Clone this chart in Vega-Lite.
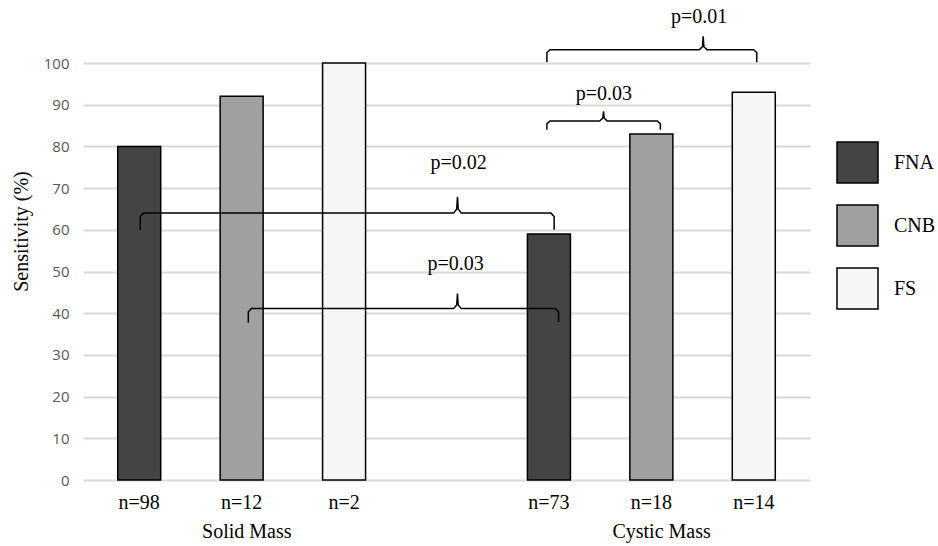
{
  "$schema": "https://vega.github.io/schema/vega-lite/v6.json",
  "width": 727,
  "height": 417,
  "autosize": "none",
  "padding": {"left": 83, "top": 63, "right": 128, "bottom": 66},
  "background": "white",
  "config": {"view": {"stroke": null}},
  "datasets": {
    "bars": [
      {"group": "Solid Mass", "method": "FNA", "slot": 0, "sensitivity": 80, "n": "n=98"},
      {"group": "Solid Mass", "method": "CNB", "slot": 1, "sensitivity": 92, "n": "n=12"},
      {"group": "Solid Mass", "method": "FS", "slot": 2, "sensitivity": 100, "n": "n=2"},
      {"group": "Cystic Mass", "method": "FNA", "slot": 4, "sensitivity": 59, "n": "n=73"},
      {"group": "Cystic Mass", "method": "CNB", "slot": 5, "sensitivity": 83, "n": "n=18"},
      {"group": "Cystic Mass", "method": "FS", "slot": 6, "sensitivity": 93, "n": "n=14"}
    ],
    "groups": [
      {"group": "Solid Mass", "slot": 1.05},
      {"group": "Cystic Mass", "slot": 5.1}
    ],
    "brackets": [
      {"b": "a", "i": 0, "x": 0.01, "y": 60},
      {"b": "a", "i": 1, "x": 0.01, "y": 63.2},
      {"b": "a", "i": 2, "x": 0.04, "y": 64},
      {"b": "a", "i": 3, "x": 3.07, "y": 64},
      {"b": "a", "i": 4, "x": 3.1, "y": 65},
      {"b": "a", "i": 5, "x": 3.107, "y": 67.9},
      {"b": "a", "i": 6, "x": 3.114, "y": 65},
      {"b": "a", "i": 7, "x": 3.144, "y": 64},
      {"b": "a", "i": 8, "x": 4.02, "y": 64},
      {"b": "a", "i": 9, "x": 4.051, "y": 63.2},
      {"b": "a", "i": 10, "x": 4.051, "y": 60},
      {"b": "b", "i": 0, "x": 1.065, "y": 37.7},
      {"b": "b", "i": 1, "x": 1.065, "y": 40.3},
      {"b": "b", "i": 2, "x": 1.095, "y": 41.1},
      {"b": "b", "i": 3, "x": 3.07, "y": 41.1},
      {"b": "b", "i": 4, "x": 3.1, "y": 42},
      {"b": "b", "i": 5, "x": 3.107, "y": 44.7},
      {"b": "b", "i": 6, "x": 3.114, "y": 42},
      {"b": "b", "i": 7, "x": 3.144, "y": 41.1},
      {"b": "b", "i": 8, "x": 4.064, "y": 41.1},
      {"b": "b", "i": 9, "x": 4.094, "y": 40.3},
      {"b": "b", "i": 10, "x": 4.094, "y": 37.9},
      {"b": "c", "i": 0, "x": 3.98, "y": 84},
      {"b": "c", "i": 1, "x": 3.98, "y": 85.4},
      {"b": "c", "i": 2, "x": 4.01, "y": 86.1},
      {"b": "c", "i": 3, "x": 4.496, "y": 86.1},
      {"b": "c", "i": 4, "x": 4.526, "y": 86.8},
      {"b": "c", "i": 5, "x": 4.533, "y": 88.4},
      {"b": "c", "i": 6, "x": 4.54, "y": 86.8},
      {"b": "c", "i": 7, "x": 4.57, "y": 86.1},
      {"b": "c", "i": 8, "x": 5.058, "y": 86.1},
      {"b": "c", "i": 9, "x": 5.088, "y": 85.4},
      {"b": "c", "i": 10, "x": 5.088, "y": 84},
      {"b": "d", "i": 0, "x": 3.98, "y": 100.2},
      {"b": "d", "i": 1, "x": 3.98, "y": 102.5},
      {"b": "d", "i": 2, "x": 4.01, "y": 103.2},
      {"b": "d", "i": 3, "x": 5.469, "y": 103.2},
      {"b": "d", "i": 4, "x": 5.499, "y": 103.9},
      {"b": "d", "i": 5, "x": 5.506, "y": 106.4},
      {"b": "d", "i": 6, "x": 5.513, "y": 103.9},
      {"b": "d", "i": 7, "x": 5.543, "y": 103.2},
      {"b": "d", "i": 8, "x": 5.999, "y": 103.2},
      {"b": "d", "i": 9, "x": 6.029, "y": 102.5},
      {"b": "d", "i": 10, "x": 6.029, "y": 100.2}
    ],
    "pvalues": [
      {"label": "p=0.02", "x": 3.119, "y": 74.7},
      {"label": "p=0.03", "x": 3.09, "y": 50.3},
      {"label": "p=0.03", "x": 4.536, "y": 91.2},
      {"label": "p=0.01", "x": 5.467, "y": 109.6}
    ]
  },
  "layer": [
    {
      "data": {"name": "bars"},
      "mark": {"type": "bar", "width": 43, "stroke": "black", "strokeWidth": 1.5},
      "encoding": {
        "x": {"field": "slot", "type": "quantitative", "scale": {"domain": [-0.5, 6.5], "nice": false, "zero": false}, "axis": null},
        "y": {
          "field": "sensitivity", "type": "quantitative",
          "scale": {"domain": [0, 100], "nice": false},
          "axis": {
            "values": [0, 10, 20, 30, 40, 50, 60, 70, 80, 90, 100],
            "domain": false, "ticks": false,
            "grid": true, "gridColor": "#d9d9d9", "gridWidth": 2,
            "labelFont": "Open Sans", "labelFontSize": 15, "labelColor": "#595959", "labelPadding": 14,
            "title": "Sensitivity (%)", "titleFont": "Liberation Serif", "titleFontSize": 20, "titleFontWeight": "normal", "titleColor": "black",
            "titleX": -62, "titleY": 168, "titleAngle": -90, "titleAlign": "center", "titleBaseline": "middle"
          }
        },
        "fill": {
          "field": "method", "type": "nominal",
          "scale": {"domain": ["FNA", "CNB", "FS"], "range": ["#444444", "#a0a0a0", "#f6f6f6"]},
          "legend": {
            "title": null, "orient": "none", "legendX": 753, "legendY": 78, "padding": 0,
            "symbolType": "square", "symbolSize": 1681, "symbolStrokeColor": "black", "symbolStrokeWidth": 1.5, "symbolOpacity": 1,
            "labelFont": "Liberation Serif", "labelFontSize": 20, "labelColor": "black", "labelOffset": 15, "rowPadding": 16
          }
        }
      }
    },
    {
      "data": {"name": "brackets"},
      "mark": {"type": "line", "color": "black", "strokeWidth": 1.5},
      "encoding": {
        "x": {"field": "x", "type": "quantitative"},
        "y": {"field": "y", "type": "quantitative"},
        "detail": {"field": "b", "type": "nominal"},
        "order": {"field": "i", "type": "quantitative"}
      }
    },
    {
      "data": {"name": "pvalues"},
      "mark": {"type": "text", "font": "Liberation Serif", "fontSize": 20, "color": "black", "align": "center", "baseline": "alphabetic"},
      "encoding": {
        "x": {"field": "x", "type": "quantitative"},
        "y": {"field": "y", "type": "quantitative"},
        "text": {"field": "label", "type": "nominal"}
      }
    },
    {
      "data": {"name": "bars"},
      "mark": {"type": "text", "font": "Liberation Serif", "fontSize": 20, "color": "black", "align": "center", "baseline": "middle", "dy": 23},
      "encoding": {
        "x": {"field": "slot", "type": "quantitative"},
        "y": {"datum": 0},
        "text": {"field": "n", "type": "nominal"}
      }
    },
    {
      "data": {"name": "groups"},
      "mark": {"type": "text", "font": "Liberation Serif", "fontSize": 20, "color": "black", "align": "center", "baseline": "middle", "dy": 52},
      "encoding": {
        "x": {"field": "slot", "type": "quantitative"},
        "y": {"datum": 0},
        "text": {"field": "group", "type": "nominal"}
      }
    }
  ]
}
